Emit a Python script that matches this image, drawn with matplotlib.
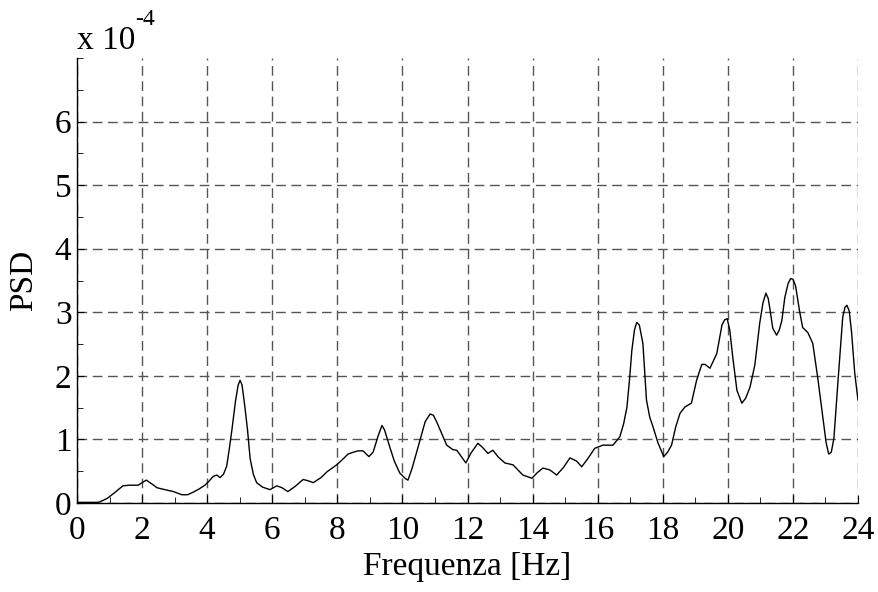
import matplotlib
matplotlib.use("Agg")
import matplotlib.pyplot as plt
from matplotlib.ticker import MultipleLocator

# Frequency (Hz) and PSD (x 1e-4)
freq = [0.0, 0.65, 0.8, 0.95, 1.15, 1.41, 1.6, 1.88, 2.0, 2.13, 2.3, 2.46, 2.7,
        2.96, 3.22, 3.4, 3.57, 3.75, 3.93, 4.05, 4.19, 4.3, 4.39, 4.5, 4.6,
        4.68, 4.76, 4.87, 4.95, 5.01, 5.07, 5.15, 5.24, 5.32, 5.42, 5.52, 5.7,
        5.93, 6.14, 6.3, 6.48, 6.7, 6.95, 7.1, 7.26, 7.5, 7.68, 7.98, 8.15,
        8.33, 8.5, 8.63, 8.79, 8.97, 9.1, 9.25, 9.37, 9.45, 9.6, 9.75, 9.92,
        10.1, 10.17, 10.3, 10.54, 10.7, 10.85, 10.95, 11.05, 11.2, 11.36,
        11.55, 11.67, 11.95, 12.1, 12.32, 12.45, 12.63, 12.78, 12.95, 13.15,
        13.4, 13.55, 13.7, 13.98, 14.15, 14.32, 14.53, 14.74, 14.95, 15.15,
        15.35, 15.51, 15.7, 15.91, 16.16, 16.47, 16.68, 16.8, 16.9, 16.98,
        17.05, 17.13, 17.2, 17.28, 17.39, 17.5, 17.6, 17.7, 17.85, 18.03,
        18.15, 18.27, 18.4, 18.53, 18.68, 18.88, 19.04, 19.2, 19.3, 19.45,
        19.66, 19.75, 19.82, 19.9, 19.98, 20.06, 20.15, 20.28, 20.43, 20.55,
        20.68, 20.83, 20.98, 21.08, 21.17, 21.24, 21.3, 21.38, 21.5, 21.58,
        21.66, 21.75, 21.85, 21.93, 22.0, 22.08, 22.21, 22.3, 22.46, 22.61,
        22.76, 22.92, 23.02, 23.1, 23.18, 23.26, 23.38, 23.53, 23.6, 23.66,
        23.73, 23.8, 23.9, 24.0]
psd = [0.01, 0.01, 0.04, 0.08, 0.16, 0.27, 0.28, 0.28, 0.32, 0.36, 0.30, 0.24,
       0.21, 0.18, 0.13, 0.13, 0.17, 0.22, 0.28, 0.34, 0.42, 0.44, 0.40, 0.45,
       0.58, 0.85, 1.15, 1.60, 1.85, 1.93, 1.86, 1.55, 1.15, 0.70, 0.45, 0.32,
       0.25, 0.21, 0.27, 0.24, 0.18, 0.26, 0.37, 0.35, 0.32, 0.40, 0.49, 0.60,
       0.68, 0.77, 0.80, 0.82, 0.82, 0.73, 0.80, 1.05, 1.22, 1.15, 0.90, 0.66,
       0.47, 0.38, 0.36, 0.55, 0.99, 1.28, 1.40, 1.38, 1.28, 1.10, 0.91,
       0.84, 0.83, 0.63, 0.78, 0.94, 0.88, 0.78, 0.83, 0.72, 0.63,
       0.60, 0.52, 0.44, 0.39, 0.48, 0.55, 0.52, 0.44, 0.56, 0.71,
       0.66, 0.57, 0.70, 0.86, 0.91, 0.91, 1.04, 1.25, 1.51, 1.95,
       2.40, 2.72, 2.84, 2.80, 2.51, 1.62, 1.35, 1.20, 0.95, 0.73,
       0.80, 0.91, 1.20, 1.41, 1.51, 1.57, 1.93, 2.18, 2.18, 2.12,
       2.35, 2.60, 2.80, 2.88, 2.90, 2.72, 2.30, 1.77, 1.57, 1.65,
       1.82, 2.17, 2.83, 3.15, 3.30, 3.22, 3.03, 2.75, 2.64, 2.72,
       2.87, 3.23, 3.45, 3.53, 3.52, 3.42, 3.00, 2.76, 2.68, 2.51,
       1.98, 1.35, 0.95, 0.77, 0.80, 1.02, 1.88, 2.92, 3.08, 3.11,
       3.02, 2.70, 2.04, 1.62]

xticks = [0, 2, 4, 6, 8, 10, 12, 14, 16, 18, 20, 22, 24]
yticks = [0, 1, 2, 3, 4, 5, 6]

plt.rcParams['font.family'] = ['Liberation Serif', 'DejaVu Serif']
FS = 24

fig = plt.figure(figsize=(8.79, 5.92), dpi=100)
ax = fig.add_axes([77/879, 1-503/592, (858-77)/879, (503-58)/592])

ax.plot(freq, psd, color='black', linewidth=1.0)

ax.set_xlim(0, 24)
ax.set_ylim(0, 7)
ax.set_xticks(xticks)
ax.set_yticks(yticks)
ax.xaxis.set_minor_locator(MultipleLocator(1))
ax.yaxis.set_minor_locator(MultipleLocator(0.5))

for s in ['top', 'right']:
    ax.spines[s].set_visible(False)
for s in ['left', 'bottom']:
    ax.spines[s].set_linewidth(1.0)

ax.tick_params(which='both', direction='in', labelsize=FS)
ax.tick_params(axis='x', which='major', length=6, pad=9)
ax.tick_params(axis='y', which='major', length=5, pad=4)
ax.tick_params(which='minor', length=4)

ax.grid(True, which='major', linestyle=(0, (7, 4)), color='#555555', linewidth=1.0)
ax.set_axisbelow(True)

ax.set_xlabel('Frequenza [Hz]', fontsize=FS, labelpad=4)
ax.set_ylabel('PSD', fontsize=FS, labelpad=11)

fig.text(77/879, 1-49/592, 'x 10', fontsize=FS, ha='left', va='baseline')
fig.text(135/879, 1-25/592, '-4', fontsize=17, ha='left', va='baseline')

fig.savefig('out.png', dpi=100)
